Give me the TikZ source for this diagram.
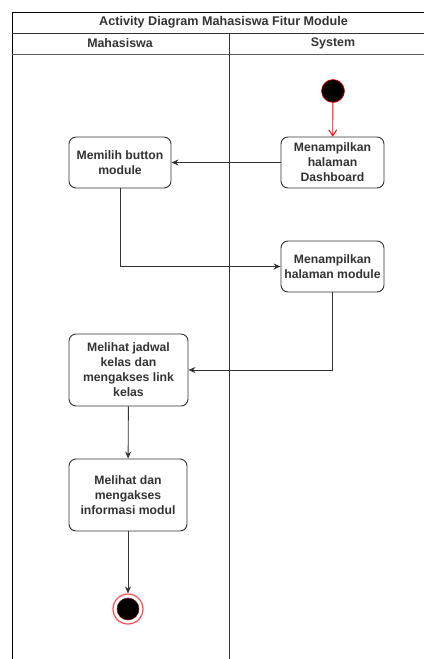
\documentclass[tikz,border=0pt]{standalone}
\usepackage{fontspec}
\setmainfont{Liberation Sans}
\usetikzlibrary{arrows.meta}
\definecolor{edge}{HTML}{333333}
\definecolor{startred}{HTML}{FF0000}
\begin{document}
\begin{tikzpicture}[x=1pt,y=-1pt,
  act/.style={draw=edge,line width=0.9pt,rounded corners=7pt,fill=white,
    align=center,font=\fontsize{12.2}{15}\selectfont\bfseries,text=edge,inner sep=2pt},
  flow/.style={draw=edge,line width=0.9pt,-{Stealth[length=7pt,width=6pt]}},
  frame/.style={draw=black,line width=0.8pt},
  rule/.style={draw=edge,line width=0.9pt},
  hdr/.style={font=\fontsize{12.4}{14}\selectfont\bfseries,text=edge}]
\useasboundingbox (0,0) rectangle (424,659);
% pool and lanes (the pool runs on past the right edge)
\draw[frame] (12,659) -- (12,12) -- (424,12);
\draw[rule] (12,33) -- (424,33);
\draw[rule,draw=edge!80] (12,54) -- (424,54);
\draw[rule] (229,33) -- (229,659);
\node[hdr,font=\fontsize{12.6}{14}\selectfont\bfseries] (title) at (223.5,22.5) {Activity Diagram Mahasiswa Fitur Module};
\node[hdr] (laneA) at (120,43.5) {Mahasiswa};
\node[hdr] (laneB) at (333,43.5) {System};
% start and end
\node[circle,fill=black,draw=startred,line width=0.6pt,minimum size=23pt,inner sep=0pt] (start) at (333,91) {};
\node[circle,draw=startred!70,line width=1.2pt,minimum size=30pt,inner sep=0pt,fill=white] (final) at (128,609) {};
\node[circle,fill=black,draw=startred!50!black,line width=0.4pt,minimum size=22pt,inner sep=0pt] (finaldot) at (128,609) {};
% activities
\node[act,minimum width=103pt,minimum height=51pt] (dash) at (332.5,162.5) {Menampilkan\\halaman\\Dashboard};
\node[act,minimum width=102pt,minimum height=51pt] (pick) at (120,162.5) {Memilih button\\module};
\node[act,minimum width=103pt,minimum height=51pt] (mod) at (332.5,266.5) {Menampilkan\\halaman module};
\node[act,minimum width=119pt,minimum height=72pt] (jadwal) at (128.5,370) {Melihat jadwal\\kelas dan\\mengakses link\\kelas};
\node[act,minimum width=118pt,minimum height=72pt] (info) at (128,495) {Melihat dan\\mengakses\\informasi modul};
% flows
\draw[draw=startred,line width=0.9pt,-{Straight Barb[length=6pt,width=8pt]}] (start) -- (dash);
\draw[flow] (dash) -- (pick);
\draw[flow] (pick.south) |- (mod.west);
\draw[flow] (mod.south) |- (jadwal.east);
\draw[flow] (jadwal) -- (info);
\draw[flow] (info) -- (final);
\end{tikzpicture}
\end{document}
